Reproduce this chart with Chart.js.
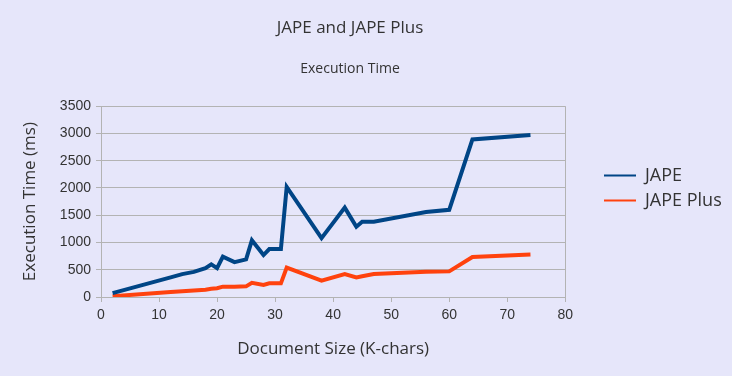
<!DOCTYPE html>
<html>
<head>
<meta charset="utf-8">
<script src="https://cdn.jsdelivr.net/npm/chart.js@4/dist/chart.umd.min.js"></script>
<style>
  html, body { margin: 0; padding: 0; background: #e6e6fa; }
  #wrap { width: 732px; height: 376px; }
</style>
</head>
<body>
<div id="wrap"><canvas id="execChart"></canvas></div>
<script>
// document sizes in K-chars (x), execution times in ms
const docSizes  = [2, 12, 14, 16, 18, 19, 20, 21, 23, 25, 26, 28, 29, 31, 32, 38, 42, 44, 45, 47, 56, 60, 64, 74];
const japeTimes = [70, 360, 420, 460, 530, 600, 530, 740, 640, 690, 1040, 770, 880, 880, 2020, 1080, 1640, 1290, 1380, 1380, 1560, 1600, 2890, 2970];
const plusTimes = [15, 90, 105, 120, 135, 150, 160, 190, 190, 195, 260, 220, 250, 250, 540, 300, 420, 360, 380, 420, 465, 470, 735, 780];
const seriesNames = ['JAPE', 'JAPE Plus'];
const seriesColors = ['#004586', '#ff420e'];

const gridGray = '#b3b3b3';
const textGray = '#333333';

const toPoints = values => docSizes.map((x, i) => ({ x: x, y: values[i] }));

// nudges the legend into the spot it has in the original picture
const legendPlacer = {
    id: 'legendPlacer',
    afterLayout(chart) {
        const lg = chart.legend;
        const dx = 597 - lg.left;
        const dy = 0;
        lg.left += dx; lg.right += dx;
        lg.top += dy; lg.bottom += dy;
    }
};

new Chart(document.getElementById('execChart'), {
    type: 'line',
    data: {
        datasets: [japeTimes, plusTimes].map((values, i) => ({
            label: seriesNames[i],
            data: toPoints(values),
            borderColor: seriesColors[i],
            backgroundColor: seriesColors[i],
            borderWidth: 4,
            pointRadius: 0,
            tension: 0,
            fill: false
        }))
    },
    options: {
        responsive: true,
        maintainAspectRatio: false,
        animation: false,
        layout: { padding: { left: 0, right: 32, top: 0, bottom: 0 } },
        plugins: {
            title: {
                display: true,
                text: 'JAPE and JAPE Plus',
                color: textGray,
                font: { family: 'Open Sans', size: 17, weight: 'normal' },
                padding: { top: 18, bottom: 11 }
            },
            subtitle: {
                display: true,
                text: 'Execution Time',
                color: textGray,
                font: { family: 'Open Sans', size: 14, weight: 'normal' },
                padding: { top: 11, bottom: 29 }
            },
            legend: {
                position: 'right',
                labels: {
                    color: textGray,
                    font: { family: 'Open Sans', size: 18 },
                    boxWidth: 32,
                    boxHeight: 2,
                    padding: 7,
                    generateLabels(chart) {
                        return Chart.defaults.plugins.legend.labels.generateLabels(chart)
                            .map(item => Object.assign(item, { lineWidth: 0 }));
                    }
                }
            },
            tooltip: { enabled: false }
        },
        scales: {
            x: {
                type: 'linear',
                min: 0,
                max: 80,
                ticks: {
                    stepSize: 10,
                    color: textGray,
                    padding: 5,
                    font: { family: 'Liberation Sans', size: 14 },
                    callback: value => String(value)
                },
                grid: {
                    drawOnChartArea: true,
                    color: ctx => (ctx.tick && ctx.tick.value === 80) ? gridGray : 'rgba(0,0,0,0)',
                    tickColor: gridGray,
                    tickLength: 5
                },
                border: { color: gridGray },
                title: {
                    display: true,
                    text: 'Document Size (K-chars)',
                    color: textGray,
                    font: { family: 'Open Sans', size: 17 },
                    padding: { top: 0, bottom: 17 }
                },
                afterFit(scale) { scale.height = 79; }
            },
            y: {
                min: 0,
                max: 3500,
                ticks: {
                    stepSize: 500,
                    color: textGray,
                    padding: 5,
                    font: { family: 'Liberation Sans', size: 14 },
                    callback: value => String(value)
                },
                grid: {
                    color: gridGray,
                    tickColor: gridGray,
                    tickLength: 5
                },
                border: { color: gridGray },
                title: {
                    display: true,
                    text: 'Execution Time (ms)',
                    color: textGray,
                    font: { family: 'Open Sans', size: 17 },
                    padding: { top: 20, bottom: 0 }
                },
                afterFit(scale) { scale.width = 101; }
            }
        }
    },
    plugins: [legendPlacer]
});
</script>
</body>
</html>
